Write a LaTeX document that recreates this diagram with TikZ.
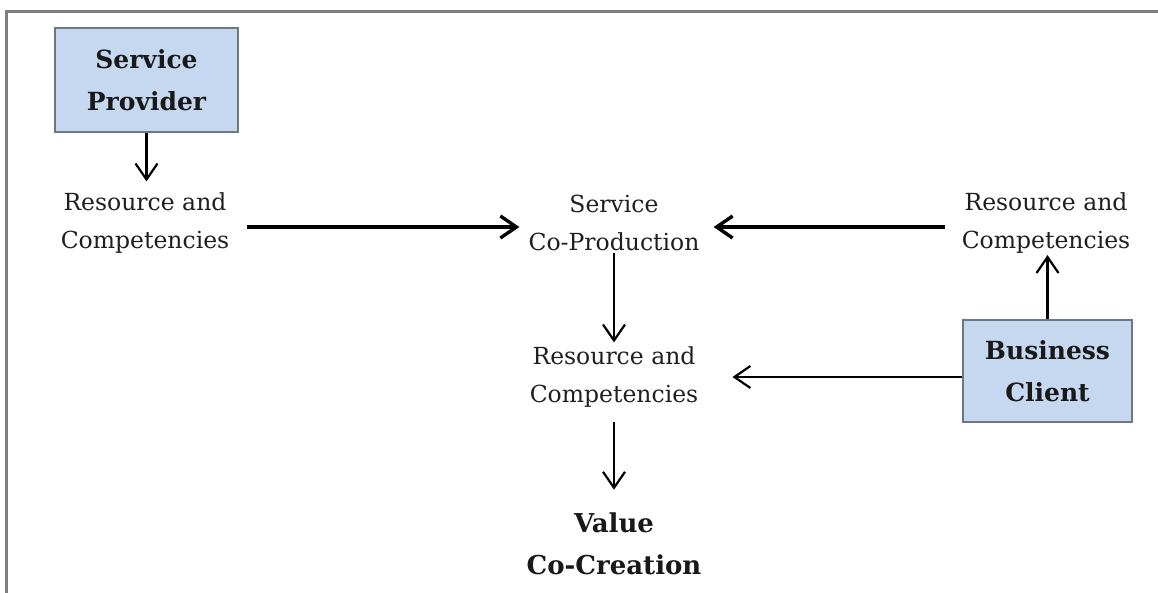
\documentclass[tikz,border=0pt]{standalone}
\usepackage{fontspec}
\setmainfont{DejaVu Serif}
\usetikzlibrary{arrows.meta,calc}
\definecolor{boxfill}{HTML}{C6D8F0}
\definecolor{boxline}{HTML}{6E7784}
\definecolor{frameline}{HTML}{7F7F7F}
\begin{document}
\begin{tikzpicture}[x=1pt,y=-1pt,
  label/.style={align=center,inner sep=0pt,text=black!88,
    font=\fontsize{23.5}{38}\selectfont},
  actor/.style={draw=boxline,line width=1.6pt,fill=boxfill,align=center,
    inner sep=0pt,text=black!90,font=\fontsize{25}{42}\selectfont\bfseries},
  result/.style={align=center,inner sep=0pt,text=black!90,
    font=\fontsize{26}{42}\selectfont\bfseries},
  flow/.style={-{Straight Barb[length=16pt,width=22pt]},line width=2.2pt},
  mainflow/.style={flow,line width=3.4pt}]
\useasboundingbox (0,0) rectangle (1158,592);
% outer frame (runs off the right and bottom edges)
\draw[frameline,line width=3pt] (1160,11) -- (6.5,11) -- (6.5,594);

% actors
\node[actor,minimum width=183pt,minimum height=104pt] (sp) at (146.5,80) {Service\\Provider};
\node[actor,minimum width=169pt,minimum height=102pt] (bc) at (1047.5,371) {Business\\Client};

% labels
\node[label] (lrc) at (145,223) {Resource and\\Competencies};
\node[label] (scp) at (614,223) {Service\\Co-Production};
\node[label] (rrc) at (1046,223) {Resource and\\Competencies};
\node[label] (mrc) at (614,377) {Resource and\\Competencies};
\node[result] (vcc) at (614,544) {Value\\Co-Creation};

% connectors
\draw[flow,shorten >=11pt] (sp.south) -- (sp.south |- lrc.north);
\draw[mainflow,shorten <=18pt,shorten >=9pt] ([yshift=-4pt]lrc.east) -- ([yshift=-4pt]scp.west);
\draw[mainflow,shorten <=17pt,shorten >=14pt] ([yshift=-4pt]rrc.west) -- ([yshift=-4pt]scp.east);
\draw[flow,shorten <=2pt,shorten >=4pt] (scp) -- (mrc);
\draw[flow,shorten <=14pt,shorten >=23pt] (mrc) -- (vcc);
\draw[flow,shorten >=1.5pt] (bc.north) -- (bc.north |- rrc.south);
\draw[flow,shorten >=34pt] (bc.west |- mrc.east) -- (mrc.east);
\end{tikzpicture}
\end{document}
